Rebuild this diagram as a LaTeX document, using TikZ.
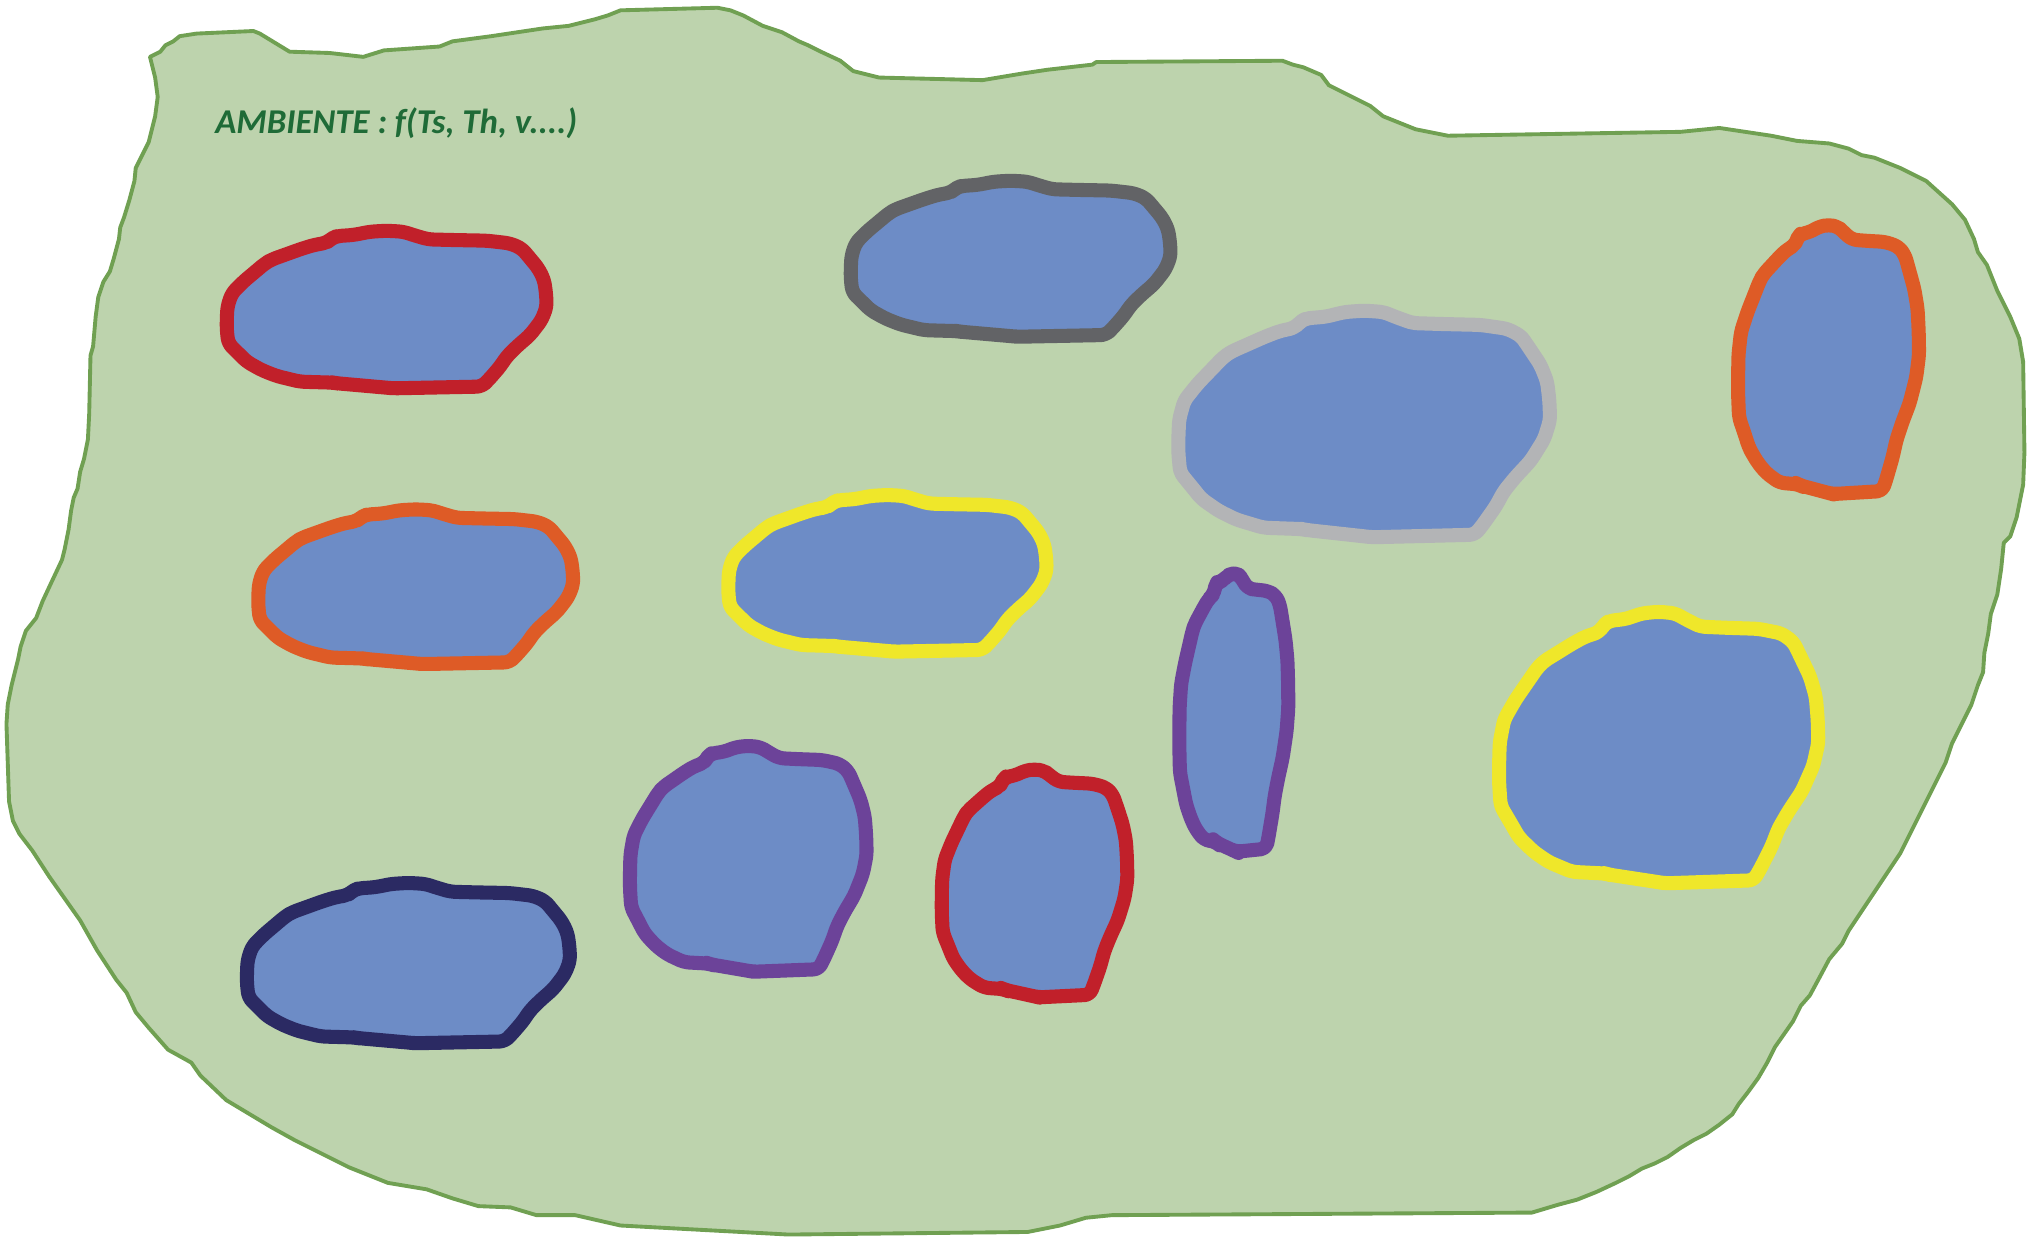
\documentclass[tikz,border=0pt]{standalone}
\usepackage{xcolor}
\usepackage{tikz}
\usepackage{fontspec}
\newfontfamily\labelfont{Carlito}
\definecolor{envgreen}{HTML}{BDD3AD}
\definecolor{envline}{HTML}{70A052}
\definecolor{envtext}{HTML}{1F6B37}
\definecolor{pondblue}{HTML}{6D8CC6}
\definecolor{pondred}{HTML}{C1202A}
\definecolor{ponddark}{HTML}{626366}
\definecolor{pondorange}{HTML}{DE5B26}
\definecolor{pondyellow}{HTML}{EFE72A}
\definecolor{pondgray}{HTML}{B3B4B6}
\definecolor{pondpurple}{HTML}{6C4399}
\definecolor{pondnavy}{HTML}{2B2A63}
\tikzset{pondstyle/.style={fill=pondblue,line width=4pt,line join=round,rounded corners=1.5pt}}
\newcommand{\drawpond}[5]{%
  \begin{scope}[shift={(#2,#3)},xscale=#4,yscale=#5]
    \filldraw[pondstyle,draw=#1] (0,0.567) -- (0.002,0.482) -- (0.016,0.397) -- (0.052,0.323)
      -- (0.089,0.260) -- (0.120,0.207) -- (0.141,0.182) -- (0.188,0.148) -- (0.229,0.118)
      -- (0.271,0.091) -- (0.3125,0.076) -- (0.328,0.049) -- (0.344,0.034) -- (0.396,0.027)
      -- (0.448,0.006) -- (0.5,0) -- (0.552,0.006) -- (0.583,0.027) -- (0.630,0.055)
      -- (0.708,0.059) -- (0.8125,0.063) -- (0.885,0.080) -- (0.922,0.112) -- (0.948,0.175)
      -- (0.974,0.239) -- (0.992,0.313) -- (0.998,0.397) -- (1,0.482) -- (0.984,0.567)
      -- (0.948,0.662) -- (0.906,0.736) -- (0.875,0.799) -- (0.854,0.863) -- (0.818,0.947)
      -- (0.797,0.989) -- (0.521,1) -- (0.5,0.996) -- (0.344,0.968) -- (0.333,0.964)
      -- (0.229,0.958) -- (0.156,0.922) -- (0.109,0.884) -- (0.0625,0.831) -- (0.031,0.767)
      -- (0.005,0.715) -- (0,0.630) -- cycle;
  \end{scope}}
\begin{document}
\begin{tikzpicture}[x=0.012927cm,y=-0.012927cm]
  \useasboundingbox (0,0) rectangle (1568,957);
  \fill[white] (0,0) rectangle (1568,957);
  \filldraw[fill=envgreen,draw=envline,line width=1.1pt,line join=round]
    (116,44) -- (124,40) -- (128,35) -- (134,32) -- (139,28) -- (152,26) -- (196,24)
    -- (201,26) -- (224,40) -- (255,41) -- (281,44) -- (297,39) -- (340,36) -- (350,32)
    -- (380,28) -- (420,22) -- (440,20) -- (460,15) -- (470,12) -- (480,8) -- (555,6)
    -- (565,8) -- (575,12) -- (590,20) -- (605,25) -- (618,32) -- (625,35) -- (635,40)
    -- (650,47) -- (660,55) -- (680,60) -- (760,62) -- (790,57) -- (810,54) -- (845,50)
    -- (848,48) -- (992,47) -- (1000,50) -- (1008,52) -- (1015,55) -- (1022,58) -- (1028,66)
    -- (1060,82) -- (1070,90) -- (1080,94) -- (1095,100) -- (1110,103) -- (1120,105)
    -- (1300,102) -- (1330,99) -- (1370,105) -- (1390,109) -- (1415,111) -- (1430,115)
    -- (1440,120) -- (1450,122) -- (1460,126) -- (1470,130) -- (1490,140) -- (1510,158)
    -- (1520,170) -- (1527,185) -- (1530,195) -- (1537,205) -- (1545,225) -- (1550,235)
    -- (1555,245) -- (1562,262) -- (1565,280) -- (1566,350) -- (1565,375) -- (1560,400)
    -- (1555,415) -- (1550,420) -- (1548,440) -- (1545,460) -- (1540,475) -- (1538,490)
    -- (1535,505) -- (1534,520) -- (1530,530) -- (1525,545) -- (1520,555) -- (1515,565)
    -- (1510,575) -- (1505,590) -- (1500,600) -- (1490,620) -- (1475,650) -- (1470,660)
    -- (1460,675) -- (1450,690) -- (1440,705) -- (1430,720) -- (1425,730) -- (1415,742)
    -- (1407,757) -- (1400,770) -- (1393,778) -- (1387,790) -- (1380,800) -- (1373,810)
    -- (1367,822) -- (1360,834) -- (1352,845) -- (1345,854) -- (1340,862) -- (1330,870)
    -- (1320,877) -- (1310,882) -- (1300,888) -- (1290,895) -- (1280,900) -- (1270,904)
    -- (1260,910) -- (1250,915) -- (1235,922) -- (1220,928) -- (1205,932) -- (1195,935)
    -- (1185,938) -- (860,940) -- (840,942) -- (820,948) -- (795,953) -- (610,955)
    -- (480,948) -- (445,940) -- (415,940) -- (395,934) -- (370,933) -- (350,927)
    -- (330,920) -- (300,915) -- (270,903) -- (250,893) -- (228,882) -- (210,872)
    -- (195,863) -- (175,851) -- (155,832) -- (148,822) -- (130,812) -- (115,795)
    -- (105,783) -- (98,768) -- (90,758) -- (75,735) -- (62,712) -- (50,695) -- (38,678)
    -- (25,658) -- (15,645) -- (10,635) -- (7,620) -- (5,560) -- (6,545) -- (9,530)
    -- (14,510) -- (16,500) -- (20,488) -- (28,478) -- (33,465) -- (40,450) -- (48,433)
    -- (50,425) -- (53,410) -- (55,395) -- (57,385) -- (60,378) -- (62,365) -- (65,355)
    -- (68,340) -- (69,320) -- (70,275) -- (72,268) -- (74,245) -- (76,230) -- (80,218)
    -- (85,210) -- (88,200) -- (92,185) -- (93,176) -- (96,168) -- (100,155) -- (104,140)
    -- (105,130) -- (110,120) -- (115,110) -- (120,90) -- (122,75) -- (120,60) -- cycle;
  \node[anchor=west,text=envtext,font=\labelfont\bfseries\itshape\fontsize{9.9}{11}\selectfont,inner sep=0pt]
    (envlabel) at (166,95) {AMBIENTE : f(Ts, Th, v....)};
  \drawpond{pondred}{175.4}{178.5}{247.5}{121.9}
  \drawpond{ponddark}{658.1}{139.8}{247.5}{120.7}
  \drawpond{pondorange}{199.8}{394}{243.7}{119.7}
  \drawpond{pondyellow}{563.4}{382.9}{246.3}{121.2}
  \drawpond{pondgray}{911.5}{240.3}{287.6}{175.3}
  \drawpond{pondorange}{1344.5}{174}{140}{208.2}
  \drawpond{pondpurple}{487.3}{576.9}{183.1}{174.8}
  \drawpond{pondred}{728.5}{595.1}{143.6}{176.4}
  \drawpond{pondpurple}{912.3}{443.5}{84.3}{215.4}
  \drawpond{pondyellow}{1159.6}{473.2}{247}{210.1}
  \drawpond{pondnavy}{191}{683}{250}{124}
\end{tikzpicture}
\end{document}
